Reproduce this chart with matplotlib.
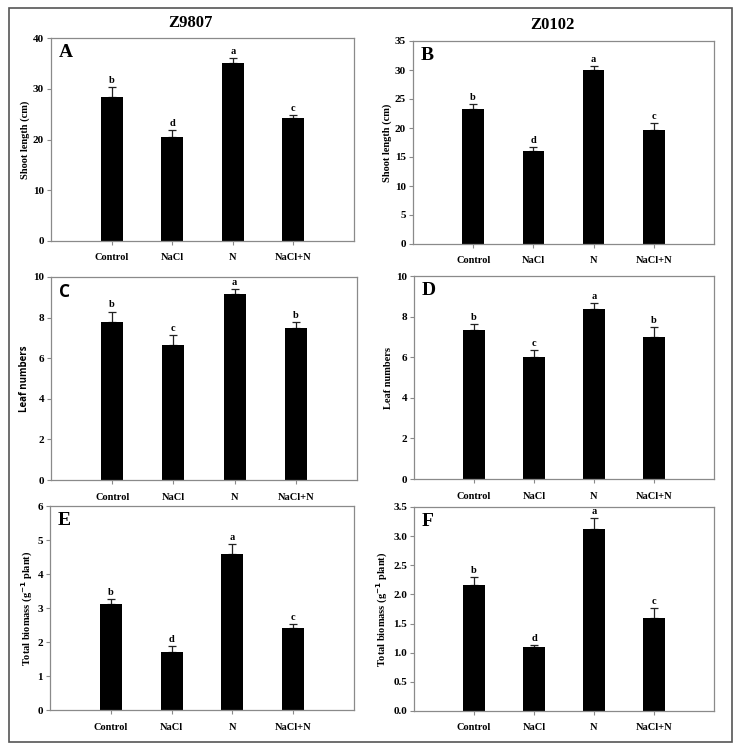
import matplotlib
matplotlib.use("Agg")
import matplotlib.pyplot as plt
from matplotlib.patches import Rectangle
import numpy as np

categories = ["Control", "NaCl", "N", "NaCl+N"]

shoot_z9807 = [28.4, 20.5, 35.1, 24.3]
shoot_z9807_err = [1.9, 1.3, 1.0, 0.6]
shoot_z0102 = [23.3, 16.1, 30.0, 19.6]
shoot_z0102_err = [0.9, 0.6, 0.7, 1.3]

leaf_z9807 = [7.8, 6.65, 9.15, 7.5]
leaf_z9807_err = [0.5, 0.5, 0.25, 0.3]
leaf_z0102 = [7.35, 6.0, 8.35, 7.0]
leaf_z0102_err = [0.3, 0.35, 0.3, 0.5]

bio_z9807 = [3.13, 1.7, 4.6, 2.4]
bio_z9807_err = [0.14, 0.17, 0.27, 0.13]
bio_z0102 = [2.17, 1.09, 3.12, 1.59]
bio_z0102_err = [0.13, 0.04, 0.19, 0.18]

letters_A = ["b", "d", "a", "c"]
letters_B = ["b", "d", "a", "c"]
letters_C = ["b", "c", "a", "b"]
letters_D = ["b", "c", "a", "b"]
letters_E = ["b", "d", "a", "c"]
letters_F = ["b", "d", "a", "c"]

SERIF = "Liberation Serif"
SANS = "Open Sans"

W, H = 743, 750
fig = plt.figure(figsize=(W / 100, H / 100), dpi=100)

def px_axes(l, t, r, b):
    return fig.add_axes([l / W, 1 - b / H, (r - l) / W, (b - t) / H])

panels = [
    ((51, 38, 354, 241), shoot_z9807, shoot_z9807_err, letters_A, 40, np.arange(0, 41, 10), "{:.0f}", "Shoot length (cm)", "A", False),
    ((413, 41, 714, 244), shoot_z0102, shoot_z0102_err, letters_B, 35, np.arange(0, 36, 5), "{:.0f}", "Shoot length (cm)", "B", False),
    ((51, 277, 357, 480), leaf_z9807, leaf_z9807_err, letters_C, 10, np.arange(0, 11, 2), "{:.0f}", "Leaf numbers", "C", True),
    ((414, 276, 714, 479), leaf_z0102, leaf_z0102_err, letters_D, 10, np.arange(0, 11, 2), "{:.0f}", "Leaf numbers", "D", False),
    ((50, 506, 354, 710), bio_z9807, bio_z9807_err, letters_E, 6, np.arange(0, 7, 1), "{:.0f}", "Total biomass (g$^{\\mathbf{-1}}$ plant)", "E", False),
    ((414, 507, 714, 711), bio_z0102, bio_z0102_err, letters_F, 3.5, np.arange(0, 3.51, 0.5), "{:.1f}", "Total biomass (g$^{\\mathbf{-1}}$ plant)", "F", False),
]

x = np.arange(1, len(categories) + 1)
spine_col = "#8a8a8a"

for box, vals, errs, lets, ymax, yticks, fmt, ylabel, plet, sans in panels:
    ax = px_axes(*box)
    ax.bar(x, vals, width=0.36, color="black", zorder=2)
    ax.errorbar(x, vals, yerr=[np.zeros(len(vals)), errs], fmt="none",
                ecolor="#222222", elinewidth=0.9, capsize=2.8, capthick=0.9, zorder=1)
    ax.set_xlim(0, 5)
    ax.set_ylim(0, ymax)
    ax.set_yticks(yticks)
    ax.set_yticklabels([fmt.format(v) for v in yticks], family=SERIF, weight="bold", fontsize=8)
    ax.set_xticks(x)
    ax.set_xticklabels(categories, family=SERIF, weight="bold", fontsize=7.5)
    for s in ax.spines.values():
        s.set_color(spine_col)
        s.set_linewidth(0.9)
    ax.tick_params(axis="both", direction="out", length=3, width=0.8, color=spine_col, pad=2)
    ax.tick_params(axis="x", pad=6)
    ax.set_ylabel(ylabel, family=SANS if sans else SERIF, weight="bold",
                  fontsize=7 if sans else 7.5, labelpad=2)
    for xi, v, e, l in zip(x, vals, errs, lets):
        ax.annotate(l, (xi, v + e), xytext=(0, 1.5), textcoords="offset points",
                    ha="center", va="bottom", family=SERIF, weight="bold", fontsize=7.5)
    ax.text(0.025, 0.97, plet, transform=ax.transAxes, ha="left", va="top",
            family=SANS if sans else SERIF, weight="bold", fontsize=12.5 if sans else 14)

fig.text(190 / W, 1 - 23 / H, "Z9807", ha="center", va="center", family=SERIF, weight="bold", fontsize=12)
fig.text(552 / W, 1 - 25 / H, "Z0102", ha="center", va="center", family=SERIF, weight="bold", fontsize=12)

fig.patches.append(Rectangle((9 / W, 1 - 742 / H), (732 - 9) / W, (742 - 8) / H,
                             transform=fig.transFigure, fill=False,
                             edgecolor="#555555", linewidth=1.2))

fig.savefig("out.png", dpi=100)
